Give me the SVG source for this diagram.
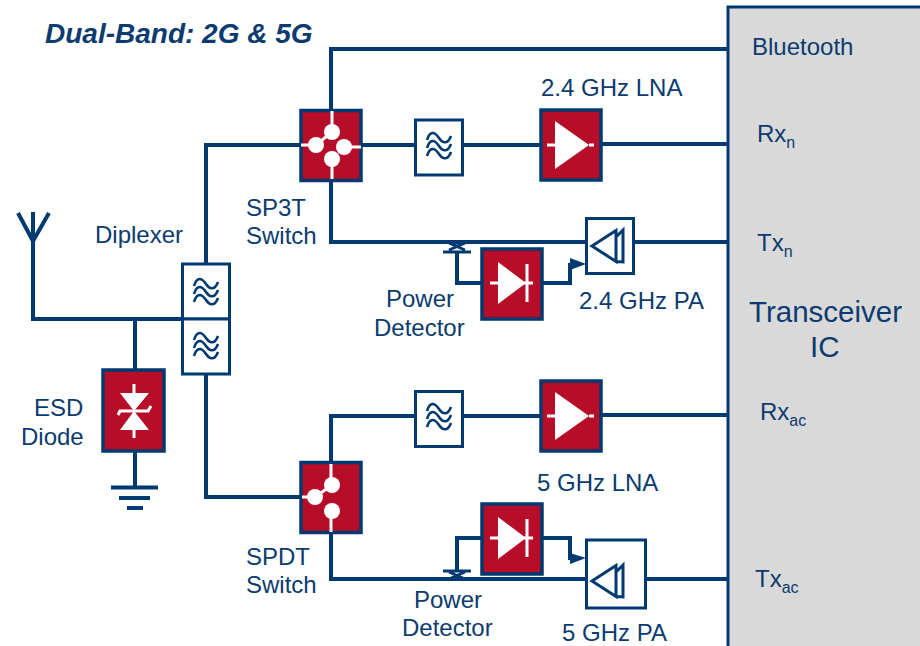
<svg xmlns="http://www.w3.org/2000/svg" xmlns:xlink="http://www.w3.org/1999/xlink" width="920" height="646" viewBox="0 0 920 646">
<style>
text{font-family:"Liberation Sans",Arial,sans-serif;font-size:24px;fill:#0b3b6f}
.sub{font-size:16px}
.wire{fill:none;stroke:#003a70;stroke-width:4}
.thin{fill:none;stroke:#003a70;stroke-width:3}
.red{fill:#b60d28;stroke:#003a70;stroke-width:3.500}
.box{fill:#fff;stroke:#003a70;stroke-width:3}
.wv{fill:none;stroke:#003a70;stroke-width:2.600}
.wl{fill:none;stroke:#fff;stroke-width:3}
.wf{fill:#fff}
</style>
<defs>
<g id="filt"><path class="wv" d="M-12 -7C-9 -17 -4 -15 0 -9S9 -3 12 -11"/><path class="wv" d="M-12 1C-9 -9 -4 -7 0 -1S9 5 12 -3"/><path class="wv" d="M-12 9C-9 -1 -4 1 0 7S9 13 12 5"/></g>
<g id="amp"><path class="wf" d="M-16 -24L18 0L-16 24Z"/><path class="wl" d="M-24 0H-16M18 0H23"/></g>
<g id="diode"><path class="wf" d="M-14 -21L14 0L-14 21Z"/><path class="wl" d="M-22 0H21M15 -19V19"/></g>
<g id="pa"><path class="thin" d="M-18 0L6 -15.500V15.500ZM6 -9L13 -16V16L6 15.500"/></g>
<g id="coup"><path class="thin" d="M-8 -9H8M-8 -2L8 -9M-8 -9L8 -2M-14 0H14"/></g>
<g id="coupf"><path class="thin" d="M-8 8H8M-8 1L8 8M-8 8L8 1M-14 0H14"/></g>
</defs>
<g id="ic"><rect x="728" y="7" width="200" height="660" fill="#d9d9d9" stroke="#003a70" stroke-width="3"/>
<text x="752" y="55">Bluetooth</text>
<text x="757" y="142">Rx<tspan class="sub" dy="6">n</tspan></text>
<text x="757" y="251">Tx<tspan class="sub" dy="6">n</tspan></text>
<text x="749" y="322" style="font-size:29.500px">Transceiver</text>
<text x="810" y="357" style="font-size:29.500px">IC</text>
<text x="760" y="420">Rx<tspan class="sub" dy="6">ac</tspan></text>
<text x="755" y="587">Tx<tspan class="sub" dy="6">ac</tspan></text>
</g>
<g id="connectors">
<path class="wire" d="M728 49H331V110M331 181V242H586M634 242H728M362 145H415M463 145H540M602 144H728M300 145H206V264M206 373V497H300M33 212V319H182M135 319V369M135 452V487M331 462V416H415M463 416H540M602 415H728M331 533V579H586M646 579H728"/>
<path class="wire" d="M481 283H457V252M543 283H570V265H576M481 538H457V571M543 538H570V558H576"/>
<path d="M570 258L586 264L570 270Z M570 553L586 558L570 564Z" fill="#003a70"/>
<path class="wire" d="M18 213L33 241L49 213"/>
</g>
<g id="coupler1"><use xlink:href="#coup" x="457" y="252"/></g>
<g id="coupler2"><use xlink:href="#coupf" x="457" y="571"/></g>
<g id="ground"><path class="wire" d="M111 487.500H158M119 498H150M127 508H143"/></g>
<g id="sp3t"><rect class="red" x="301" y="110.500" width="60" height="70"/>
<circle class="wf" cx="332" cy="132" r="8"/><circle class="wf" cx="316" cy="145" r="8"/><circle class="wf" cx="344" cy="147" r="8"/><circle class="wf" cx="332" cy="159" r="8"/>
<path class="wl" d="M332 111V132M301 145H316M344 147H361M332 159V179M316 145L332 132"/></g>
<g id="spdt"><rect class="red" x="301" y="462.500" width="60" height="70"/>
<circle class="wf" cx="332" cy="485" r="8"/><circle class="wf" cx="315" cy="497" r="8"/><circle class="wf" cx="332" cy="511" r="8"/>
<path class="wl" d="M331 464V485M302 497H315M331 511V532M315 497L332 485"/></g>
<g id="filter1"><rect class="box" x="415.500" y="120" width="47" height="55"/><use xlink:href="#filt" x="439" y="147"/></g>
<g id="filter2"><rect class="box" x="415.500" y="391.500" width="47" height="55"/><use xlink:href="#filt" x="439" y="418"/></g>
<g id="lna1"><rect class="red" x="541" y="110" width="60" height="70"/><use xlink:href="#amp" x="571" y="145"/></g>
<g id="lna2"><rect class="red" x="541" y="381" width="60" height="70"/><use xlink:href="#amp" x="571" y="416"/></g>
<g id="det1"><rect class="red" x="482" y="249" width="60" height="70"/><use xlink:href="#diode" x="512" y="283"/></g>
<g id="det2"><rect class="red" x="482" y="504" width="60" height="70"/><use xlink:href="#diode" x="512" y="538"/></g>
<g id="pa1"><rect class="box" x="586.500" y="218.500" width="47" height="55"/><use xlink:href="#pa" x="610" y="246"/></g>
<g id="pa2"><rect class="box" x="586.500" y="540" width="59" height="68"/><use xlink:href="#pa" x="610" y="581"/></g>
<g id="diplexer"><rect class="box" x="182.500" y="264" width="47" height="55"/><rect class="box" x="182.500" y="319" width="47" height="55"/><use xlink:href="#filt" x="206" y="293"/><use xlink:href="#filt" x="206" y="347"/></g>
<g id="esd"><rect class="red" x="103" y="370" width="61" height="81"/>
<path class="wf" d="M120 393H149L134 411L149 430H120L134 411Z"/>
<path class="wl" d="M134 384V393M134 430V438M118 415L120 411H148L151 406"/></g>
<g id="labels">
<text x="45" y="43" style="font-weight:bold;font-style:italic;font-size:28px">Dual-Band: 2G &amp; 5G</text>
<text x="541" y="96">2.4 GHz LNA</text>
<text x="95" y="243">Diplexer</text>
<text x="246" y="216">SP3T</text>
<text x="246" y="244">Switch</text>
<text x="386" y="307">Power</text>
<text x="374" y="336">Detector</text>
<text x="579" y="309">2.4 GHz PA</text>
<text x="34" y="416">ESD</text>
<text x="21" y="445">Diode</text>
<text x="537" y="491">5 GHz LNA</text>
<text x="246" y="565">SPDT</text>
<text x="246" y="593">Switch</text>
<text x="414" y="608">Power</text>
<text x="402" y="636">Detector</text>
<text x="562" y="640.500">5 GHz PA</text>
</g>
</svg>
